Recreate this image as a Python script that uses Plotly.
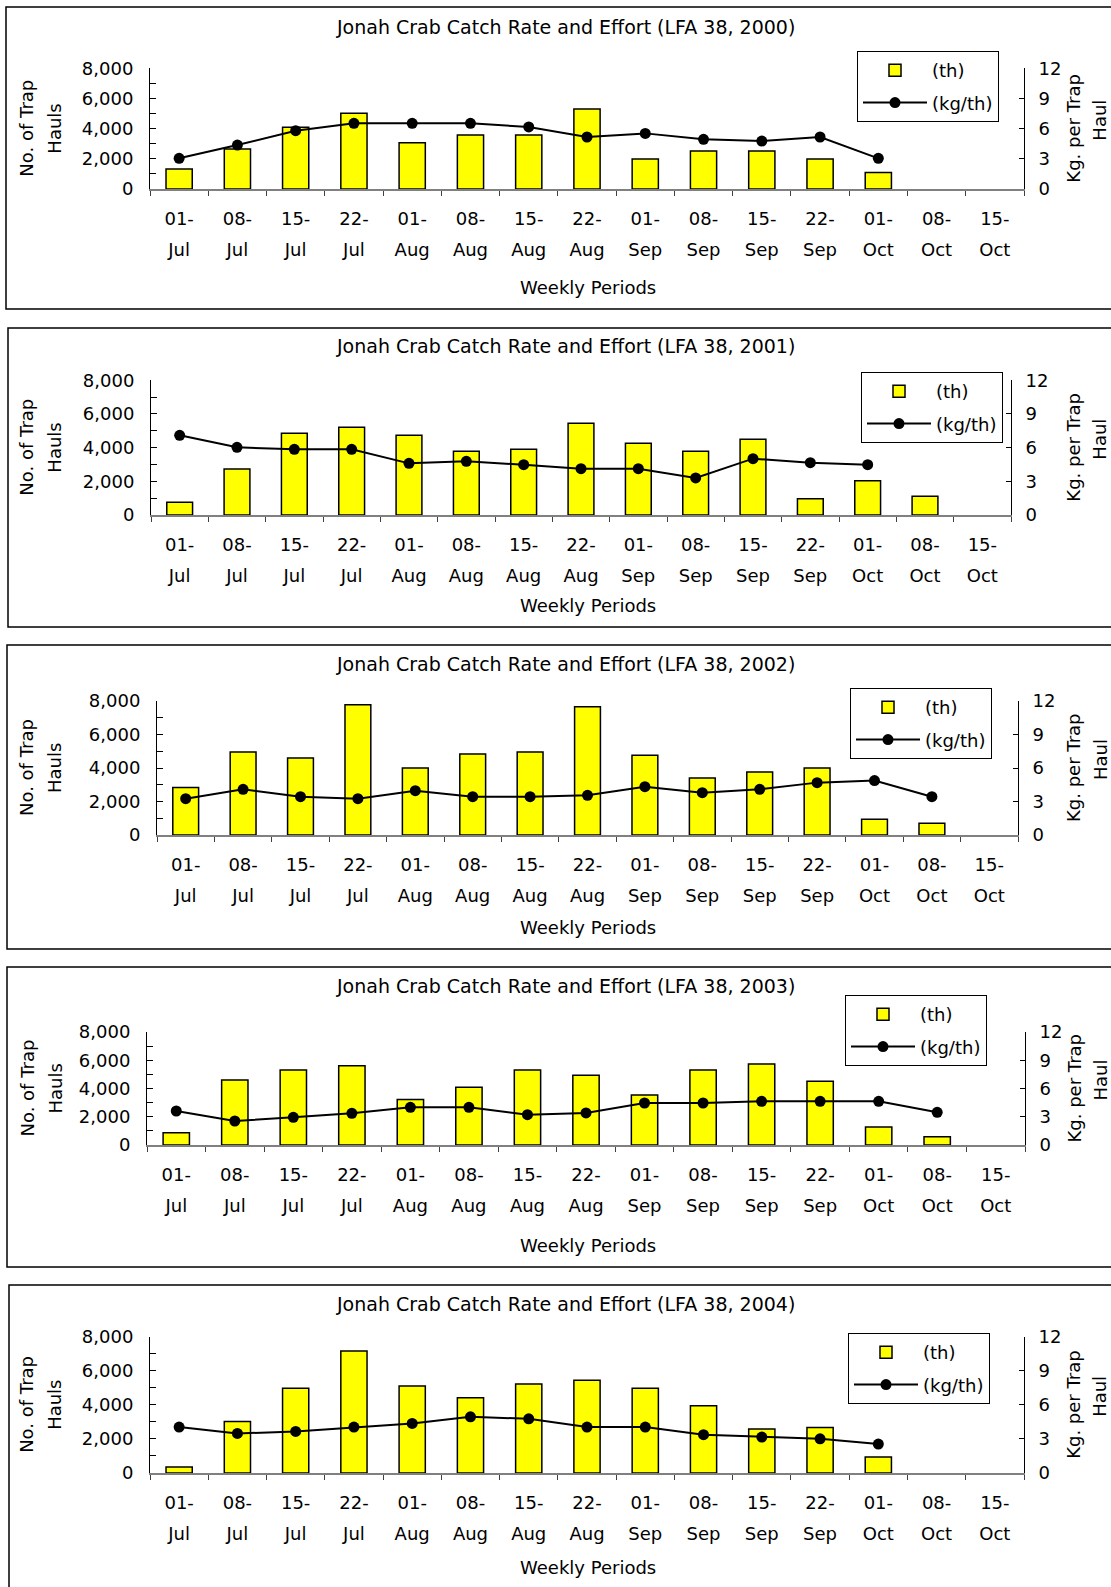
import plotly.graph_objects as go

# ---------------- data ----------------
weeks = ["01-Jul", "08-Jul", "15-Jul", "22-Jul", "01-Aug", "08-Aug", "15-Aug", "22-Aug",
         "01-Sep", "08-Sep", "15-Sep", "22-Sep", "01-Oct", "08-Oct", "15-Oct"]
day_labels = ["01-", "08-", "15-", "22-", "01-", "08-", "15-", "22-",
              "01-", "08-", "15-", "22-", "01-", "08-", "15-"]
month_labels = ["Jul", "Jul", "Jul", "Jul", "Aug", "Aug", "Aug", "Aug",
                "Sep", "Sep", "Sep", "Sep", "Oct", "Oct", "Oct"]

years = [2000, 2001, 2002, 2003, 2004]

th_2000 = [1330, 2650, 4090, 5020, 3070, 3580, 3580, 5300, 1990, 2520, 2520, 1990, 1100, None, None]
kg_2000 = [3.05, 4.37, 5.8, 6.53, 6.53, 6.53, 6.17, 5.17, 5.53, 4.94, 4.77, 5.17, 3.05, None, None]

th_2001 = [750, 2730, 4850, 5210, 4730, 3780, 3900, 5450, 4260, 3780, 4500, 970, 2040, 1110, None]
kg_2001 = [7.1, 6.03, 5.85, 5.85, 4.6, 4.78, 4.48, 4.13, 4.13, 3.3, 5.02, 4.66, 4.48, None, None]

th_2002 = [2830, 4960, 4600, 7780, 4000, 4840, 4960, 7660, 4760, 3400, 3760, 4000, 940, 700, None]
kg_2002 = [3.25, 4.09, 3.43, 3.25, 3.97, 3.43, 3.43, 3.55, 4.33, 3.79, 4.09, 4.69, 4.87, 3.43, None]

th_2003 = [870, 4600, 5310, 5610, 3230, 4080, 5310, 4930, 3540, 5310, 5730, 4510, 1270, 590, None]
kg_2003 = [3.61, 2.55, 2.94, 3.36, 4.0, 4.0, 3.22, 3.4, 4.46, 4.46, 4.64, 4.64, 4.64, 3.47, None]

th_2004 = [350, 3020, 4980, 7160, 5110, 4410, 5230, 5440, 4980, 3940, 2580, 2670, 940, None, None]
kg_2004 = [4.04, 3.48, 3.66, 4.04, 4.36, 4.95, 4.77, 4.04, 4.04, 3.37, 3.16, 3.01, 2.55, None, None]

effort = [th_2000, th_2001, th_2002, th_2003, th_2004]
rate = [kg_2000, kg_2001, kg_2002, kg_2003, kg_2004]

left_ticks = [0, 2000, 4000, 6000, 8000]
right_ticks = [0, 3, 6, 9, 12]

# ---------------- layout geometry (pixels) ----------------
W, H = 1111, 1587
FONT = "DejaVu Sans"

# plot area: x0, x1, y_top, y_bottom ; panel box: top, bottom, left ; legend: left, top
geom = [
    dict(x0=150, x1=1024, yt=68.3, yb=189, box=(7, 309, 6), leg=(857, 51), title=26.7, xt=287),
    dict(x0=151, x1=1011, yt=380.3, yb=515, box=(328, 627, 8), leg=(861, 372), title=346, xt=605),
    dict(x0=157, x1=1018, yt=701, yb=835, box=(645, 949, 7), leg=(850, 688), title=664, xt=927),
    dict(x0=147, x1=1025, yt=1032, yb=1145, box=(967, 1267, 7), leg=(845, 995), title=986, xt=1245),
    dict(x0=150, x1=1024, yt=1336.7, yb=1473, box=(1285, 1600, 9), leg=(848, 1333), title=1304, xt=1567),
]


def xp(px):
    return px / W


def yp(py):
    return 1 - py / H


def s(n):
    return "" if n == 1 else str(n)


fig = go.Figure()
layout = dict(
    width=W, height=H, margin=dict(l=0, r=0, t=0, b=0, pad=0, autoexpand=False), autosize=False,
    paper_bgcolor="white", plot_bgcolor="rgba(0,0,0,0)",
    font=dict(family=FONT, size=18, color="black"),
    bargap=0.55, showlegend=True,
)
annotations = []
shapes = []

for i, yr in enumerate(years):
    g = geom[i]
    n1, n2 = 2 * i + 1, 2 * i + 2
    leg = "legend" + s(i + 1)

    fig.add_trace(go.Bar(
        x=weeks, y=effort[i], name="(th)",
        marker=dict(color="#FFFF00", line=dict(color="black", width=1.5)),
        xaxis="x" + s(n1), yaxis="y" + s(n1), legend=leg, legendgroup=f"th{i}",
    ))
    fig.add_trace(go.Scatter(
        x=weeks, y=rate[i], name="(kg/th)", mode="lines+markers",
        line=dict(color="black", width=2), marker=dict(color="black", size=11),
        xaxis="x" + s(n2), yaxis="y" + s(n2), legend=leg, legendgroup=f"kg{i}",
    ))

    layout["xaxis" + s(n1)] = dict(
        domain=[xp(g["x0"]), xp(g["x1"])], anchor="y" + s(n1), type="category",
        categoryorder="array", categoryarray=weeks, range=[-0.5, len(weeks) - 0.5],
        tickmode="array", tickvals=weeks, ticktext=day_labels, tickson="boundaries",
        ticks="outside", ticklen=5, tickcolor="#404040", tickwidth=1,
        showline=True, linecolor="#808080", linewidth=1.5, showgrid=False, zeroline=False,
        ticklabelstandoff=13, tickfont=dict(size=18), fixedrange=True, automargin=False,
    )
    layout["xaxis" + s(n2)] = dict(
        overlaying="x" + s(n1), anchor="y" + s(n2), type="category",
        categoryorder="array", categoryarray=weeks, range=[-0.5, len(weeks) - 0.5],
        tickmode="array", tickvals=weeks, ticktext=month_labels, ticks="",
        showline=False, showgrid=False, zeroline=False,
        ticklabelstandoff=48, tickfont=dict(size=18), fixedrange=True, automargin=False,
    )
    layout["yaxis" + s(n1)] = dict(
        domain=[yp(g["yb"]), yp(g["yt"])], anchor="x" + s(n1), range=[0, 8000],
        tickmode="array", tickvals=left_ticks, tickformat=",",
        ticks="inside", ticklen=6, tickcolor="black",
        minor=dict(dtick=1000, tick0=0, ticks="inside", ticklen=6, tickcolor="black"),
        showline=True, linecolor="black", linewidth=1, showgrid=False, zeroline=False,
        ticklabelstandoff=12, tickfont=dict(size=18), fixedrange=True, automargin=False,
    )
    layout["yaxis" + s(n2)] = dict(
        overlaying="y" + s(n1), anchor="x" + s(n2), side="right", range=[0, 12],
        tickmode="array", tickvals=right_ticks, ticks="inside", ticklen=5, tickcolor="black",
        showline=True, linecolor="black", linewidth=1, showgrid=False, zeroline=False,
        ticklabelstandoff=10, tickfont=dict(size=18), fixedrange=True, automargin=False,
    )
    layout[leg] = dict(
        x=xp(g["leg"][0]), y=yp(g["leg"][1]), xanchor="left", yanchor="top",
        bgcolor="white", bordercolor="black", borderwidth=1,
        font=dict(family=FONT, size=18), itemwidth=64,
        traceorder="grouped", tracegroupgap=6,
    )

    yc = (g["yt"] + g["yb"]) / 2
    annotations += [
        dict(text=f"Jonah Crab Catch Rate and Effort (LFA 38, {yr})", x=xp(565), y=yp(g["title"]),
             xref="paper", yref="paper", showarrow=False, xanchor="center", yanchor="middle",
             font=dict(size=19)),
        dict(text="Weekly Periods", x=xp(588), y=yp(g["xt"]), xref="paper", yref="paper",
             showarrow=False, xanchor="center", yanchor="middle"),
        dict(text="No. of Trap", x=xp(27), y=yp(yc), xref="paper", yref="paper", textangle=-90,
             showarrow=False, xanchor="center", yanchor="middle"),
        dict(text="Hauls", x=xp(55), y=yp(yc), xref="paper", yref="paper", textangle=-90,
             showarrow=False, xanchor="center", yanchor="middle"),
        dict(text="Kg. per Trap", x=xp(1074), y=yp(yc), xref="paper", yref="paper", textangle=-90,
             showarrow=False, xanchor="center", yanchor="middle"),
        dict(text="Haul", x=xp(1100), y=yp(yc - 8), xref="paper", yref="paper", textangle=-90,
             showarrow=False, xanchor="center", yanchor="middle"),
    ]
    top, bottom, left = g["box"]
    shapes.append(dict(type="rect", xref="paper", yref="paper",
                       x0=xp(left), x1=xp(1125), y0=yp(bottom), y1=yp(top),
                       line=dict(color="black", width=1.5), fillcolor="rgba(0,0,0,0)", layer="below"))

layout["annotations"] = annotations
layout["shapes"] = shapes
fig.update_layout(**layout)
fig.write_html("out.html")
